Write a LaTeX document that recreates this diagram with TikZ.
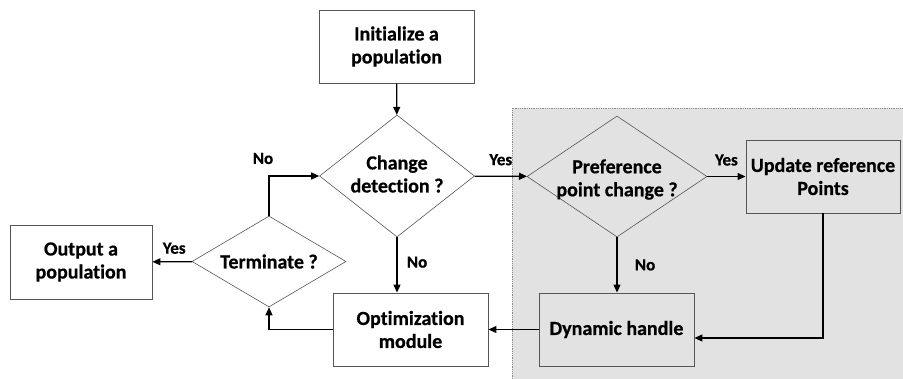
\documentclass[tikz,border=0pt]{standalone}
\usepackage{fontspec}
\setmainfont{Carlito}[Ligatures=NoCommon,BoldFeatures={FakeBold=0.6}]
\usetikzlibrary{shapes.geometric,arrows.meta,positioning,backgrounds}
\definecolor{flowLine}{RGB}{85,85,85}
\definecolor{flowShade}{RGB}{226,226,226}
\definecolor{flowDots}{RGB}{140,140,140}

\begin{document}
\begin{tikzpicture}[x=1pt,y=-1pt,
  box/.style={rectangle,draw=flowLine,line width=0.9pt,
              minimum width=#1,minimum height=73pt,inner sep=0pt,
              align=center,font=\fontsize{20}{23}\selectfont\bfseries},
  box/.default=155pt,
  decision/.style={diamond,draw=flowLine,line width=0.6pt,inner sep=0pt},
  dtext/.style={align=center,font=\fontsize{20}{23}\selectfont\bfseries},
  arrow/.style={-{Triangle[length=8pt,width=7pt]},line width=1.2pt,color=black},
  lbl/.style={font=\fontsize{17}{19}\selectfont\bfseries}
]
\useasboundingbox (0,0) rectangle (903,379);
% shaded part
\fill[flowShade] (512,108) rectangle (903,379);
\draw[flowDots,densely dotted,line width=0.8pt] (512,379) -- (512,108) -- (903,108);
% Boxes
\node[box] (init) at (396.5,46.5) {Initialize a\\population};
\node[box=154pt] (update) at (823,176.5) {Update reference\\Points};
\node[box=142pt,minimum height=74pt] (output) at (81,262) {Output a\\population};
\node[box] (optim) at (410.5,329.5) {Optimization\\module};
\node[box] (dyn) at (616.5,329.5) {Dynamic handle};
% Decisions
\node[decision,minimum width=155pt,minimum height=122pt,
      label={[dtext,yshift=2pt]center:Change\\detection ?}] (change) at (397,176) {};
\node[decision,minimum width=180pt,minimum height=121pt,
      label={[dtext,yshift=-3pt]center:Preference\\point change ?}] (pref) at (617,176.5) {};
\node[decision,minimum width=154pt,minimum height=91pt,
      label={[dtext]center:Terminate ?}] (term) at (269,261.5) {};
% Connectors
\draw[arrow] (init) -- (change);
\draw[arrow] (change) -- node[lbl,above=7pt] {Yes} (pref);
\draw[arrow] (pref) -- node[lbl,above=7pt] {Yes} (update);
\draw[arrow] (pref.south) -- node[lbl,right=14pt] {No} (pref.south |- dyn.north);
\draw[arrow] (change.south) -- node[lbl,right=6pt,pos=0.45] {No} (change.south |- optim.north);
\coordinate (turn) at (823,338);
\draw[arrow] (update) -- (turn) -- (dyn.east |- turn);
\draw[arrow] (dyn) -- (optim);
\draw[arrow] (optim) -| (term);
\draw[arrow] (term) |- node[lbl,pos=0.5,above=8pt,xshift=-6pt] {No} (change);
\draw[arrow] (term) -- node[lbl,above=4pt,pos=0.45] {Yes} (output);
\end{tikzpicture}
\end{document}
